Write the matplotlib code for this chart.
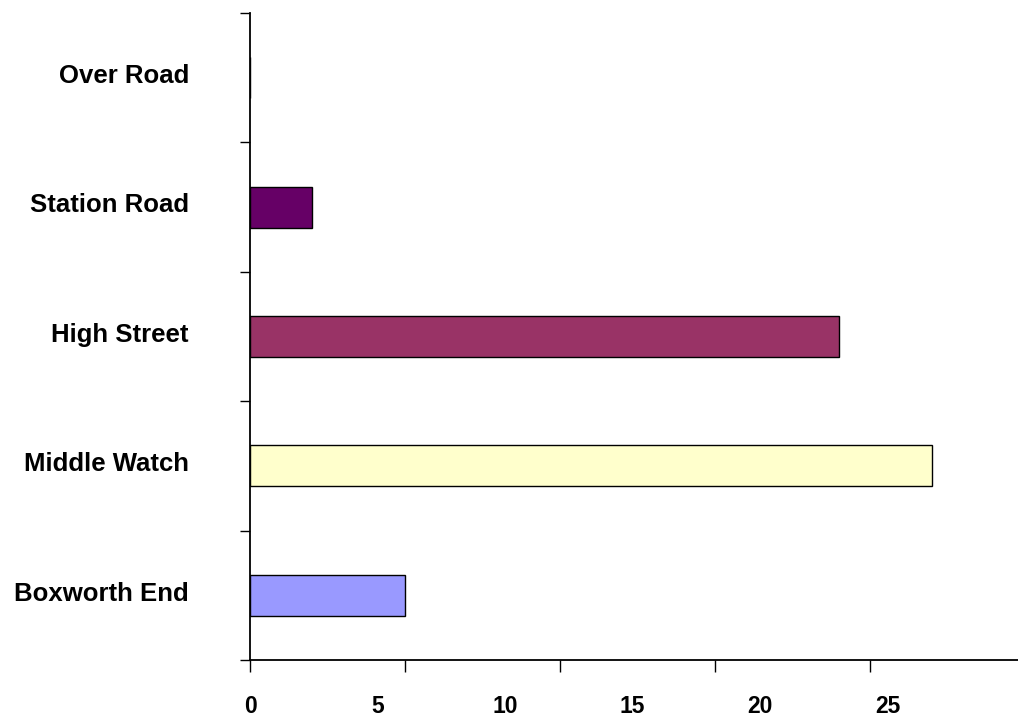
import numpy as np
import matplotlib
matplotlib.use("Agg")
import matplotlib.pyplot as plt
from matplotlib.transforms import ScaledTranslation

# data, listed bottom to top as on the chart
categories = ["Boxworth End", "Middle Watch", "High Street", "Station Road", "Over Road"]
values = [5, 22, 19, 2, 0]
colors = ["#9999FF", "#FFFFCC", "#993366", "#660066", "#CCFFFF"]
label_ticks = [0, 5, 10, 15, 20, 25]

# the printed numbers sit on a tighter spacing than the tick marks
label_scale = 31 / 25.5

plt.rcParams["font.family"] = ["Liberation Sans", "DejaVu Sans"]
plt.rcParams["font.weight"] = "bold"

fig = plt.figure(figsize=(10.18, 7.19), dpi=100)
ax = fig.add_axes([0.2456, 0.0821, 0.7544, 0.8998])

pos = np.arange(len(categories))
ax.barh(pos, values, height=0.317, color=colors, edgecolor="black", linewidth=1.0)

ax.set_xlim(0, 24.77)
ax.set_ylim(-0.5, len(categories) - 0.5)

for side in ["top", "right"]:
    ax.spines[side].set_visible(False)
for side in ["left", "bottom"]:
    ax.spines[side].set_linewidth(1.3)

# category labels in the middle of each band, tick marks on band edges
ax.set_yticks(pos)
ax.set_yticklabels(categories, fontsize=18.5, fontweight="bold")
ax.tick_params(axis="y", which="major", length=0, pad=44)
lift = ScaledTranslation(0, 3 / 72, fig.dpi_scale_trans)
for lbl in ax.get_yticklabels():
    lbl.set_transform(lbl.get_transform() + lift)
ax.set_yticks(np.arange(-0.5, len(categories)), minor=True)
ax.tick_params(axis="y", which="minor", length=7.5, width=1, direction="out")

# x tick marks, unlabelled
ax.set_xticks([0, 5, 10, 15, 20])
ax.set_xticklabels([])
ax.tick_params(axis="x", which="major", length=8.5, width=1, direction="out")

# x numbers on their own scale
sec = ax.secondary_xaxis("bottom", functions=(lambda x: x * label_scale,
                                               lambda v: v / label_scale))
sec.set_xticks(label_ticks)
sec.set_xticklabels([str(t) for t in label_ticks], fontsize=16.5, fontweight="bold")
sec.tick_params(length=0, pad=25)
sec.spines["bottom"].set_visible(False)

fig.savefig("out.png", dpi=100)
